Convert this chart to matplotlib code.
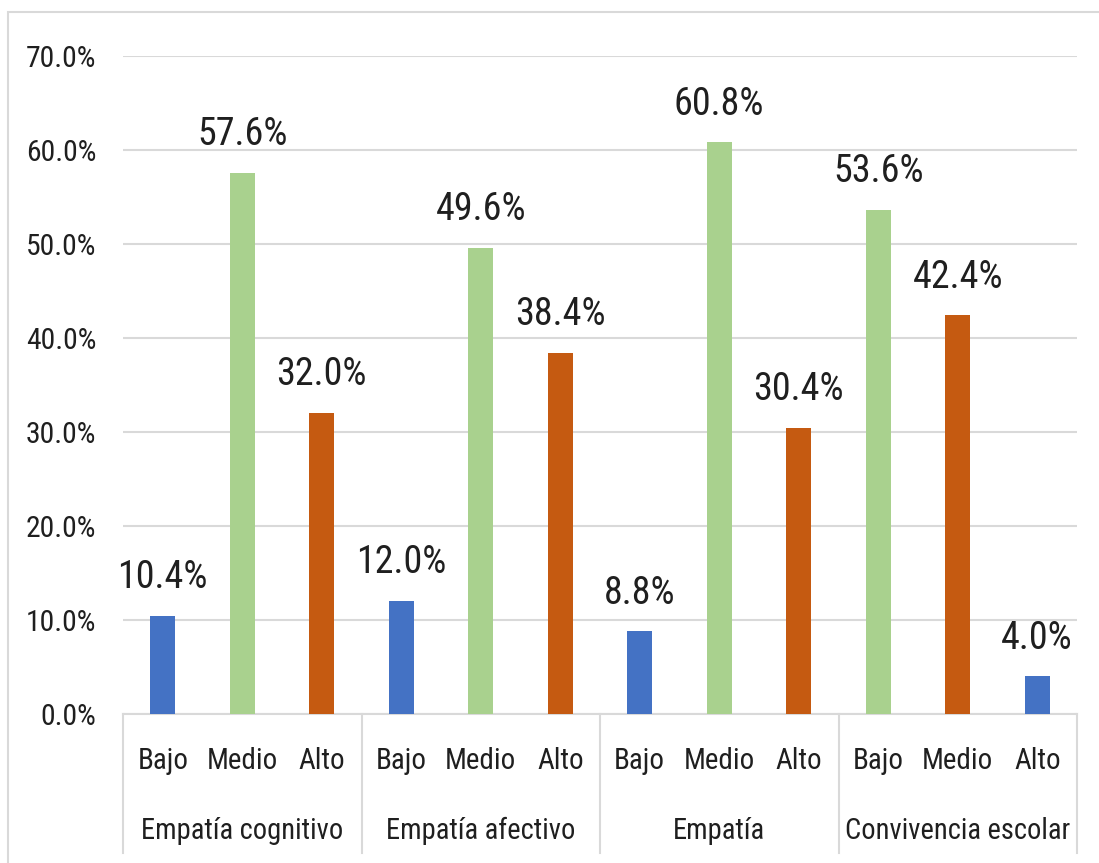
import matplotlib
matplotlib.use("Agg")
import matplotlib.pyplot as plt
from matplotlib import font_manager
from matplotlib.font_manager import FontProperties
from matplotlib.patches import Rectangle
from matplotlib.transforms import blended_transform_factory

# ---- data ----
groups = ["Empatía cognitivo", "Empatía afectivo", "Empatía", "Convivencia escolar"]
levels = ["Bajo", "Medio", "Alto"]
values = [10.4, 57.6, 32.0,
          12.0, 49.6, 38.4,
          8.8, 60.8, 30.4,
          53.6, 42.4, 4.0]
bar_colors = ["#4472C4", "#A9D18E", "#C55A11",
              "#4472C4", "#A9D18E", "#C55A11",
              "#4472C4", "#A9D18E", "#C55A11",
              "#A9D18E", "#C55A11", "#4472C4"]
yticks = [0, 10, 20, 30, 40, 50, 60, 70]


# ---- pick a narrow font (reference uses a Calibri-like narrow face) ----
def pick_font():
    pref = ["Liberation Sans Narrow", "Roboto Condensed", "Open Sans Condensed",
            "Open Sans", "Noto Sans", "Roboto", "DejaVu Sans"]
    best, best_score = None, None
    for f in font_manager.fontManager.ttflist:
        narrow = (f.stretch in ("condensed", "semi-condensed", "extra-condensed")
                  or "Narrow" in f.name or "Condensed" in f.name
                  or "Condensed" in f.fname or "Narrow" in f.fname)
        if not narrow or f.style != "normal":
            continue
        w = f.weight if isinstance(f.weight, int) else 400
        if w not in (400, "normal"):
            continue
        rank = next((i for i, p in enumerate(pref) if f.name.startswith(p)), len(pref))
        score = (rank, 0 if f.stretch == "semi-condensed" else 1)
        if best_score is None or score < best_score:
            best, best_score = f, score
    if best is None:
        return FontProperties(family="DejaVu Sans")
    return FontProperties(fname=best.fname)


fp = pick_font()

W, H = 1099, 863
fig = plt.figure(figsize=(W / 100, H / 100), dpi=100)
fig.patch.set_facecolor("white")
renderer = fig.canvas.get_renderer()


def size_for(s, target_px):
    t = fig.text(0, 0, s, fontproperties=fp, fontsize=10)
    w = t.get_window_extent(renderer).width
    t.remove()
    return 10 * target_px / w


fs_tick = size_for("70.0%", 70)
fs_data = size_for("57.6%", 90)
fs_lvl = min(size_for("Medio", 76), size_for("Bajo", 51))
fs_grp = min(size_for("Empatía cognitivo", 205), size_for("Convivencia escolar", 224))

# outer chart border
fig.patches.append(Rectangle((8 / W, -0.05), 1.2, 1 - 12 / H + 0.05,
                             transform=fig.transFigure, fill=False,
                             edgecolor="#D9D9D9", linewidth=1.5, zorder=0))

left, right, top, bottom = 123, 1077, 56, 714
ax = fig.add_axes([left / W, 1 - bottom / H, (right - left) / W, (bottom - top) / H])

txt = "#1F1F1F"
grid_c = "#D9D9D9"
x = list(range(len(values)))
ax.bar(x, values, width=0.32, color=bar_colors, zorder=3)
ax.set_xlim(-0.5, len(values) - 0.5)
ax.set_ylim(0, 70)
ax.set_yticks(yticks)
ax.set_yticklabels([f"{v:.1f}%" for v in yticks], color=txt)
for lab in ax.get_yticklabels():
    lab.set_fontproperties(fp)
    lab.set_fontsize(fs_tick)
ax.tick_params(axis="y", length=0, pad=19)
ax.set_xticks([])
for s in ["top", "right", "left"]:
    ax.spines[s].set_visible(False)
ax.spines["bottom"].set_color(grid_c)
ax.spines["bottom"].set_linewidth(1.5)
ax.yaxis.grid(True, color=grid_c, linewidth=1.5, zorder=0)
ax.set_axisbelow(True)

for xi, v in zip(x, values):
    ax.annotate(f"{v:.1f}%", (xi, v), xytext=(0, 20), textcoords="offset points",
                ha="center", va="baseline", fontproperties=fp, fontsize=fs_data,
                color=txt)

trans = blended_transform_factory(ax.transData, ax.transAxes)
axh = bottom - top
sep_bottom = -(853 - bottom) / axh
for g in range(len(groups) + 1):
    xs = g * len(levels) - 0.5
    ax.plot([xs, xs], [0, sep_bottom], transform=trans, color=grid_c,
            linewidth=1.5, clip_on=False)

for i in x:
    ax.text(i, -(761 - bottom) / axh, levels[i % len(levels)], transform=trans,
            ha="center", va="center", fontproperties=fp, fontsize=fs_lvl, color=txt)
for g, name in enumerate(groups):
    ax.text(g * len(levels) + 1, -(831 - bottom) / axh, name, transform=trans,
            ha="center", va="center", fontproperties=fp, fontsize=fs_grp, color=txt)

fig.savefig("out.png", dpi=100, facecolor="white")
